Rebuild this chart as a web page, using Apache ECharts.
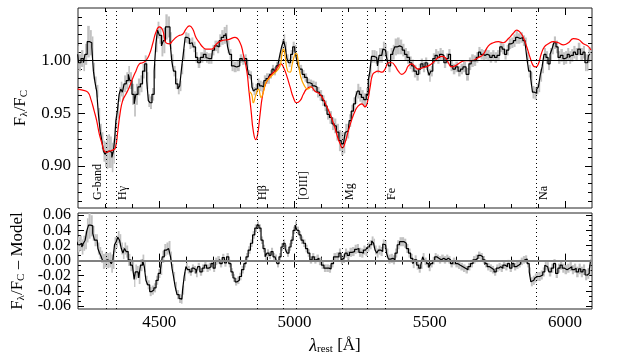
<!DOCTYPE html>
<html>
<head>
<meta charset="utf-8">
<script src="https://cdn.jsdelivr.net/npm/echarts@6/dist/echarts.min.js"></script>
<style>
  html, body { margin: 0; padding: 0; background: #fff; }
  #chart { width: 623px; height: 356px; }
</style>
</head>
<body>
<div id="chart"></div>
<script>
// observed spectrum, normalised by continuum (black steps + grey error boxes)
var specWave = [
  4199, 4205, 4217, 4223, 4229, 4239, 4248, 4254, 4260, 4266,
  4272, 4279, 4285, 4291, 4297, 4303, 4309, 4315, 4322, 4328,
  4334, 4338, 4342, 4349, 4355, 4361, 4367, 4374, 4383, 4389,
  4395, 4404, 4411, 4417, 4426, 4435, 4442, 4451, 4457, 4463,
  4469, 4478, 4485, 4491, 4497, 4505, 4512, 4519, 4527, 4536,
  4544, 4549, 4557, 4565, 4573, 4579, 4586, 4592, 4600, 4608,
  4616, 4622, 4631, 4638, 4647, 4657, 4670, 4676, 4684, 4694,
  4700, 4709, 4719, 4725, 4734, 4743, 4750, 4756, 4764, 4771,
  4780, 4793, 4803, 4811, 4820, 4827, 4833, 4840, 4846, 4852,
  4860, 4867, 4875, 4883, 4891, 4899, 4906, 4913, 4921, 4928,
  4936, 4943, 4950, 4957, 4963, 4969, 4975, 4982, 4990, 4997,
  5005, 5010, 5017, 5024, 5033, 5042, 5052, 5061, 5070, 5079,
  5088, 5098, 5107, 5116, 5125, 5134, 5144, 5150, 5160, 5169,
  5177, 5185, 5191, 5199, 5206, 5214, 5222, 5229, 5236, 5244,
  5251, 5261, 5270, 5276, 5282, 5288, 5296, 5304, 5310, 5316,
  5323, 5331, 5337, 5344, 5351, 5360, 5367, 5374, 5384, 5394,
  5403, 5411, 5421, 5430, 5437, 5446, 5456, 5463, 5471, 5479,
  5487, 5495, 5501, 5507, 5516, 5524, 5532, 5541, 5548, 5557,
  5565, 5573, 5581, 5590, 5600, 5610, 5618, 5628, 5641, 5649,
  5658, 5668, 5676, 5684, 5692, 5701, 5708, 5717, 5727, 5735,
  5744, 5754, 5764, 5772, 5781, 5788, 5797, 5806, 5813, 5822,
  5830, 5840, 5849, 5856, 5862, 5870, 5877, 5883, 5892, 5899,
  5905, 5912, 5919, 5926, 5934, 5941, 5949, 5955, 5963, 5971,
  5978, 5988, 5997, 6004, 6013, 6019, 6027, 6035, 6043, 6052,
  6062, 6071, 6077, 6084, 6090, 6095
];
var specFlux = [
  1.006, 0.998, 1.002, 0.998, 1.006, 1.018, 1.017, 1.013, 0.990, 0.979,
  0.971, 0.949, 0.933, 0.924, 0.914, 0.911, 0.913, 0.914, 0.913, 0.908,
  0.914, 0.927, 0.943, 0.952, 0.968, 0.973, 0.970, 0.978, 0.981, 0.987,
  0.981, 0.968, 0.959, 0.968, 0.975, 0.978, 0.990, 0.997, 0.981, 0.962,
  0.960, 0.968, 0.990, 1.016, 1.029, 1.024, 1.014, 1.019, 1.032, 1.032,
  1.019, 1.000, 0.990, 0.978, 0.973, 0.976, 0.992, 1.006, 1.022, 1.021,
  1.016, 1.017, 1.013, 1.003, 0.998, 1.003, 1.006, 1.003, 1.002, 1.002,
  1.010, 1.014, 1.013, 1.019, 1.022, 1.024, 1.026, 1.013, 1.006, 0.995,
  0.994, 0.995, 1.002, 1.000, 1.002, 0.997, 0.987, 0.986, 0.975, 0.971,
  0.973, 0.978, 0.976, 0.975, 0.981, 0.983, 0.983, 0.987, 0.992, 0.990,
  0.995, 0.997, 1.006, 1.014, 1.019, 1.013, 1.002, 0.998, 1.006, 1.013,
  1.010, 1.002, 0.995, 0.992, 0.987, 0.984, 0.979, 0.978, 0.976, 0.975,
  0.970, 0.967, 0.962, 0.957, 0.949, 0.946, 0.940, 0.938, 0.932, 0.924,
  0.921, 0.922, 0.932, 0.933, 0.943, 0.952, 0.959, 0.965, 0.971, 0.968,
  0.965, 0.963, 0.968, 0.981, 0.990, 1.004, 1.004, 1.003, 0.995, 1.005,
  1.005, 1.011, 1.010, 1.003, 0.995, 1.006, 1.008, 1.013, 1.014, 1.013,
  1.010, 1.006, 1.003, 0.998, 0.995, 0.990, 0.987, 0.992, 0.997, 0.994,
  0.998, 0.992, 0.986, 0.990, 1.002, 1.005, 1.003, 1.006, 1.005, 0.998,
  1.002, 1.006, 0.995, 0.992, 0.994, 0.990, 0.992, 0.994, 0.987, 0.997,
  1.000, 1.000, 1.003, 1.008, 1.006, 1.005, 1.006, 1.005, 1.003, 1.005,
  1.003, 1.005, 1.013, 1.011, 1.006, 1.010, 1.016, 1.017, 1.019, 1.022,
  1.021, 1.022, 1.019, 1.017, 1.003, 0.990, 0.983, 0.970, 0.969, 0.973,
  0.975, 0.986, 0.994, 1.006, 1.003, 0.997, 1.006, 1.011, 1.017, 1.013,
  1.003, 1.005, 1.002, 1.003, 1.006, 1.003, 1.005, 1.008, 1.006, 1.011,
  1.006, 1.008, 0.998, 0.998, 1.005, 1.006
];
var specErr = [
  0.008, 0.008, 0.008, 0.008, 0.010, 0.015, 0.012, 0.010, 0.008, 0.006,
  0.006, 0.006, 0.007, 0.008, 0.010, 0.012, 0.016, 0.016, 0.015, 0.014,
  0.012, 0.010, 0.008, 0.007, 0.007, 0.007, 0.008, 0.008, 0.008, 0.008,
  0.008, 0.010, 0.012, 0.010, 0.008, 0.008, 0.007, 0.008, 0.008, 0.006,
  0.006, 0.006, 0.007, 0.008, 0.008, 0.008, 0.010, 0.012, 0.012, 0.010,
  0.008, 0.006, 0.005, 0.005, 0.005, 0.005, 0.005, 0.005, 0.005, 0.005,
  0.005, 0.005, 0.005, 0.005, 0.005, 0.005, 0.005, 0.005, 0.005, 0.005,
  0.005, 0.005, 0.006, 0.006, 0.007, 0.008, 0.008, 0.006, 0.005, 0.005,
  0.005, 0.005, 0.004, 0.004, 0.004, 0.004, 0.004, 0.004, 0.004, 0.004,
  0.005, 0.005, 0.005, 0.005, 0.005, 0.005, 0.005, 0.004, 0.004, 0.004,
  0.004, 0.004, 0.004, 0.006, 0.006, 0.005, 0.004, 0.004, 0.004, 0.005,
  0.005, 0.004, 0.004, 0.004, 0.004, 0.004, 0.004, 0.004, 0.005, 0.005,
  0.005, 0.005, 0.005, 0.005, 0.005, 0.006, 0.006, 0.007, 0.008, 0.010,
  0.011, 0.010, 0.008, 0.007, 0.006, 0.006, 0.006, 0.006, 0.007, 0.007,
  0.007, 0.006, 0.006, 0.006, 0.006, 0.006, 0.006, 0.006, 0.007, 0.007,
  0.007, 0.007, 0.006, 0.006, 0.006, 0.006, 0.007, 0.008, 0.008, 0.007,
  0.006, 0.006, 0.006, 0.006, 0.006, 0.006, 0.006, 0.005, 0.005, 0.005,
  0.005, 0.006, 0.006, 0.005, 0.005, 0.006, 0.006, 0.006, 0.005, 0.005,
  0.005, 0.005, 0.005, 0.005, 0.005, 0.005, 0.005, 0.005, 0.006, 0.006,
  0.006, 0.005, 0.005, 0.005, 0.005, 0.005, 0.005, 0.005, 0.005, 0.005,
  0.005, 0.005, 0.005, 0.005, 0.005, 0.005, 0.005, 0.005, 0.006, 0.006,
  0.005, 0.005, 0.005, 0.005, 0.005, 0.006, 0.006, 0.006, 0.006, 0.005,
  0.005, 0.006, 0.006, 0.006, 0.006, 0.006, 0.006, 0.005, 0.006, 0.006,
  0.006, 0.006, 0.006, 0.006, 0.006, 0.006, 0.006, 0.006, 0.006, 0.006,
  0.006, 0.006, 0.008, 0.008, 0.007, 0.007
];

// best-fit model (red)
var modelWave = [
  4199, 4217, 4236, 4248, 4260, 4269, 4279, 4289, 4297, 4306,
  4316, 4328, 4338, 4347, 4355, 4365, 4377, 4390, 4402, 4414,
  4427, 4439, 4451, 4464, 4476, 4488, 4501, 4513, 4525, 4538,
  4550, 4562, 4575, 4587, 4599, 4612, 4624, 4636, 4649, 4661,
  4673, 4694, 4713, 4731, 4756, 4780, 4799, 4811, 4824, 4832,
  4840, 4848, 4857, 4864, 4873, 4881, 4891, 4904, 4916, 4928,
  4941, 4950, 4959, 4971, 4984, 4996, 5008, 5021, 5033, 5045,
  5061, 5076, 5095, 5113, 5132, 5150, 5160, 5169, 5177, 5187,
  5199, 5212, 5224, 5236, 5249, 5261, 5271, 5280, 5288, 5298,
  5310, 5323, 5335, 5347, 5360, 5372, 5384, 5397, 5409, 5421,
  5434, 5446, 5458, 5471, 5483, 5495, 5507, 5520, 5532, 5544,
  5557, 5569, 5581, 5594, 5606, 5618, 5631, 5655, 5680, 5698,
  5717, 5735, 5754, 5772, 5791, 5809, 5822, 5834, 5846, 5859,
  5871, 5883, 5892, 5902, 5912, 5924, 5939, 5957, 5976, 5994,
  6013, 6031, 6050, 6068, 6084, 6096
];
var modelFlux = [
  0.973, 0.972, 0.970, 0.963, 0.952, 0.943, 0.930, 0.921, 0.914, 0.913,
  0.914, 0.915, 0.917, 0.933, 0.949, 0.962, 0.968, 0.975, 0.983, 0.990,
  0.997, 0.998, 1.000, 1.006, 1.016, 1.027, 1.032, 1.029, 1.017, 1.016,
  1.019, 1.022, 1.024, 1.025, 1.030, 1.033, 1.030, 1.022, 1.017, 1.013,
  1.011, 1.011, 1.016, 1.019, 1.020, 1.022, 1.017, 1.006, 0.990, 0.971,
  0.952, 0.933, 0.925, 0.930, 0.949, 0.965, 0.976, 0.983, 0.987, 0.990,
  0.995, 0.997, 0.994, 0.986, 0.975, 0.965, 0.960, 0.962, 0.968, 0.973,
  0.975, 0.971, 0.968, 0.960, 0.949, 0.936, 0.927, 0.921, 0.917, 0.922,
  0.933, 0.944, 0.952, 0.957, 0.959, 0.956, 0.962, 0.975, 0.986, 0.989,
  0.990, 0.989, 0.992, 0.998, 0.998, 0.995, 0.990, 0.987, 0.989, 0.995,
  0.997, 0.994, 0.992, 0.993, 0.994, 0.995, 0.997, 1.000, 1.003, 1.004,
  1.003, 0.998, 0.994, 0.995, 0.997, 0.999, 1.000, 1.000, 1.003, 1.006,
  1.014, 1.017, 1.018, 1.017, 1.021, 1.026, 1.029, 1.027, 1.022, 1.013,
  1.003, 0.995, 0.994, 0.997, 1.006, 1.013, 1.016, 1.018, 1.017, 1.015,
  1.017, 1.021, 1.020, 1.016, 1.014, 1.010
];

// model including the Hbeta / [OIII] emission (orange)
var emisWave = [
  4832, 4842, 4848, 4857, 4867, 4877, 4885, 4894, 4906, 4922,
  4934, 4947, 4955, 4960, 4965, 4975, 4984, 4992, 5002, 5007,
  5015, 5024, 5037, 5049, 5061
];
var emisFlux = [
  0.971, 0.968, 0.960, 0.967, 0.973, 0.965, 0.970, 0.979, 0.983, 0.987,
  0.990, 0.995, 1.008, 1.011, 1.005, 0.990, 0.989, 0.997, 1.006, 1.007,
  0.997, 0.984, 0.976, 0.973, 0.975
];

// residuals, data - model (bottom panel)
var resWave = [
  4196, 4202, 4211, 4217, 4223, 4230, 4236, 4242, 4251, 4258,
  4264, 4271, 4276, 4283, 4289, 4295, 4304, 4312, 4320, 4326,
  4332, 4338, 4344, 4350, 4357, 4363, 4369, 4375, 4381, 4390,
  4397, 4405, 4410, 4414, 4422, 4427, 4435, 4442, 4448, 4454,
  4461, 4469, 4476, 4485, 4492, 4501, 4508, 4515, 4523, 4531,
  4539, 4545, 4550, 4556, 4562, 4570, 4577, 4584, 4589, 4596,
  4602, 4609, 4618, 4624, 4633, 4639, 4646, 4655, 4663, 4671,
  4679, 4688, 4695, 4704, 4710, 4720, 4729, 4737, 4745, 4753,
  4762, 4769, 4777, 4784, 4793, 4800, 4809, 4817, 4825, 4833,
  4842, 4849, 4858, 4865, 4873, 4880, 4888, 4895, 4902, 4910,
  4917, 4925, 4932, 4939, 4947, 4954, 4962, 4969, 4976, 4984,
  4991, 4999, 5006, 5013, 5021, 5028, 5037, 5045, 5053, 5061,
  5070, 5077, 5086, 5095, 5105, 5113, 5123, 5132, 5139, 5150,
  5160, 5169, 5175, 5183, 5191, 5199, 5208, 5218, 5227, 5234,
  5243, 5251, 5259, 5267, 5273, 5282, 5289, 5296, 5300, 5308,
  5314, 5323, 5330, 5337, 5344, 5351, 5360, 5368, 5376, 5384,
  5393, 5402, 5409, 5418, 5425, 5434, 5441, 5448, 5456, 5463,
  5471, 5477, 5485, 5493, 5500, 5507, 5515, 5522, 5530, 5538,
  5547, 5557, 5565, 5573, 5581, 5590, 5600, 5609, 5618, 5628,
  5637, 5646, 5655, 5665, 5674, 5683, 5692, 5701, 5708, 5717,
  5726, 5734, 5742, 5750, 5759, 5766, 5775, 5784, 5791, 5800,
  5808, 5816, 5824, 5833, 5840, 5849, 5856, 5865, 5871, 5877,
  5885, 5892, 5899, 5907, 5914, 5922, 5929, 5936, 5945, 5954,
  5961, 5970, 5978, 5986, 5994, 6003, 6013, 6021, 6030, 6037,
  6046, 6055, 6062, 6071, 6078, 6087, 6093, 6097
];
var resVal = [
  0.025, 0.021, 0.023, 0.018, 0.023, 0.027, 0.040, 0.047, 0.046, 0.036,
  0.027, 0.027, 0.016, 0.010, 0.005, -0.001, 0.001, 0.000, 0.001, -0.004,
  0.001, 0.021, 0.025, 0.031, 0.027, 0.016, 0.010, 0.016, 0.012, 0.001,
  -0.006, -0.008, -0.025, -0.015, -0.015, -0.023, -0.006, 0.001, -0.008, -0.026,
  -0.032, -0.041, -0.039, -0.036, -0.026, -0.017, -0.012, 0.005, 0.014, 0.016,
  0.018, 0.005, -0.010, -0.021, -0.034, -0.045, -0.050, -0.051, -0.039, -0.021,
  -0.008, -0.012, -0.015, -0.010, -0.012, -0.017, -0.008, -0.015, -0.010, -0.006,
  -0.010, -0.008, -0.004, -0.010, -0.001, 0.001, -0.004, 0.004, -0.003, 0.005,
  -0.004, -0.015, -0.023, -0.028, -0.026, -0.021, -0.012, -0.004, 0.005, 0.014,
  0.023, 0.034, 0.043, 0.047, 0.043, 0.027, 0.016, 0.005, 0.010, 0.007,
  0.012, 0.005, 0.003, -0.004, 0.005, 0.018, 0.023, 0.016, 0.010, 0.018,
  0.027, 0.040, 0.047, 0.040, 0.034, 0.027, 0.023, 0.016, 0.010, 0.001,
  0.005, 0.001, 0.003, -0.001, -0.006, -0.010, -0.010, -0.011, -0.004, 0.005,
  0.005, 0.010, 0.001, 0.003, 0.010, 0.007, 0.011, 0.012, 0.015, 0.016,
  0.011, 0.010, 0.014, 0.012, 0.018, 0.021, 0.026, 0.023, 0.014, 0.010,
  0.014, 0.012, 0.022, 0.021, 0.010, 0.002, 0.003, 0.001, 0.010, 0.021,
  0.025, 0.025, 0.023, 0.016, 0.010, 0.003, -0.004, 0.001, -0.006, -0.010,
  -0.006, 0.005, -0.001, -0.004, -0.009, -0.004, 0.000, 0.005, 0.003, 0.001,
  0.003, 0.001, 0.003, 0.001, -0.004, -0.001, -0.004, -0.006, -0.008, -0.010,
  -0.012, -0.008, -0.004, 0.001, 0.003, 0.007, 0.005, 0.001, -0.004, -0.008,
  -0.010, -0.012, -0.015, -0.010, -0.008, -0.010, -0.006, -0.008, -0.004, -0.010,
  -0.004, -0.008, -0.006, -0.004, -0.001, 0.001, 0.002, -0.004, -0.015, -0.028,
  -0.026, -0.023, -0.021, -0.021, -0.019, -0.015, -0.006, -0.008, -0.015, -0.010,
  -0.004, -0.017, -0.010, -0.006, -0.010, -0.012, -0.010, -0.008, -0.012, -0.010,
  -0.015, -0.011, -0.015, -0.012, -0.019, -0.017, -0.012, 0.001
];
var resErr = [
  0.010, 0.010, 0.010, 0.010, 0.010, 0.012, 0.016, 0.018, 0.014, 0.010,
  0.008, 0.008, 0.008, 0.008, 0.008, 0.010, 0.010, 0.010, 0.010, 0.012,
  0.012, 0.010, 0.008, 0.008, 0.008, 0.008, 0.008, 0.008, 0.008, 0.008,
  0.008, 0.008, 0.010, 0.010, 0.008, 0.008, 0.008, 0.007, 0.007, 0.006,
  0.006, 0.006, 0.006, 0.006, 0.006, 0.006, 0.007, 0.008, 0.008, 0.008,
  0.008, 0.007, 0.006, 0.006, 0.006, 0.006, 0.006, 0.006, 0.006, 0.006,
  0.005, 0.005, 0.005, 0.005, 0.005, 0.005, 0.005, 0.005, 0.005, 0.005,
  0.005, 0.005, 0.005, 0.005, 0.005, 0.005, 0.005, 0.005, 0.005, 0.005,
  0.005, 0.005, 0.005, 0.005, 0.005, 0.005, 0.005, 0.005, 0.005, 0.005,
  0.005, 0.005, 0.005, 0.005, 0.005, 0.005, 0.005, 0.005, 0.005, 0.005,
  0.005, 0.005, 0.005, 0.005, 0.005, 0.005, 0.005, 0.005, 0.005, 0.005,
  0.005, 0.005, 0.005, 0.005, 0.005, 0.005, 0.005, 0.005, 0.005, 0.005,
  0.005, 0.005, 0.005, 0.005, 0.005, 0.005, 0.005, 0.005, 0.005, 0.005,
  0.006, 0.006, 0.006, 0.006, 0.006, 0.006, 0.006, 0.006, 0.006, 0.006,
  0.006, 0.006, 0.006, 0.006, 0.006, 0.006, 0.006, 0.006, 0.006, 0.006,
  0.006, 0.006, 0.006, 0.006, 0.006, 0.006, 0.006, 0.006, 0.006, 0.006,
  0.006, 0.006, 0.006, 0.006, 0.006, 0.006, 0.006, 0.006, 0.006, 0.006,
  0.005, 0.005, 0.005, 0.005, 0.005, 0.005, 0.005, 0.005, 0.005, 0.005,
  0.005, 0.005, 0.005, 0.005, 0.005, 0.005, 0.005, 0.005, 0.005, 0.005,
  0.005, 0.005, 0.005, 0.005, 0.005, 0.005, 0.005, 0.005, 0.005, 0.005,
  0.005, 0.005, 0.005, 0.005, 0.005, 0.005, 0.005, 0.005, 0.005, 0.005,
  0.005, 0.005, 0.005, 0.005, 0.005, 0.005, 0.005, 0.005, 0.006, 0.006,
  0.006, 0.006, 0.006, 0.006, 0.006, 0.006, 0.006, 0.006, 0.006, 0.006,
  0.006, 0.006, 0.006, 0.006, 0.006, 0.006, 0.006, 0.006, 0.006, 0.006,
  0.007, 0.007, 0.007, 0.007, 0.007, 0.007, 0.007, 0.007
];

// absorption / emission features
var lineWave = [4304, 4340, 4861, 4959, 5007, 5175, 5270, 5335, 5893];
var labelText = ["G-band", "H\u03b3", "H\u03b2", "[OIII]", "Mg", "Fe", "Na"];
var labelWave = [4272, 4366, 4882, 5035, 5206, 5359, 5921];

// axes
var xRange = [4200, 6100];
var topRange = [0.86, 1.05];
var resRange = [-0.064, 0.063];
var xMajor = [4500, 5000, 5500, 6000];
var xMinor = [4300, 4400, 4600, 4700, 4800, 4900, 5100, 5200, 5300, 5400, 5600, 5700, 5800, 5900];
var topMajor = [0.90, 0.95, 1.00];
var resMajor = [-0.06, -0.04, -0.02, 0.00, 0.02, 0.04, 0.06];
// labels of the residual axis are split on two axes so none gets dropped as overlapping
var resLabelsA = [-0.06, -0.02, 0.02, 0.06];
var resLabelsB = [-0.04, 0.00, 0.04];

var FONT = "Liberation Serif";

function minorTicks(major, parts, range) {
  var step = (major[1] - major[0]) / parts;
  var out = [];
  for (var k = -40; k <= 40; k++) {
    var v = major[0] + k * step;
    if (v <= range[0] + 1e-6 || v >= range[1] - 1e-6) continue;
    if (k % parts === 0) continue;
    out.push(+v.toFixed(5));
  }
  return out;
}
var topMinor = minorTicks(topMajor, 6, topRange);
var resMinor = minorTicks(resMajor, 3, resRange);

function xAx(grid, pos, vals, len, labels) {
  return {
    type: "value", gridIndex: grid, position: pos,
    min: xRange[0], max: xRange[1],
    axisLine: { show: false },
    splitLine: { show: false },
    axisTick: { show: true, inside: true, length: len, customValues: vals,
      lineStyle: { color: "#000", width: 1 } },
    axisLabel: { show: labels, customValues: vals, margin: 5,
      showMinLabel: true, showMaxLabel: true,
      color: "#000", fontFamily: FONT, fontSize: 17,
      formatter: function (v) { return String(v); } }
  };
}

function yAx(grid, pos, range, vals, len, labelVals, size) {
  return {
    type: "value", gridIndex: grid, position: pos,
    min: range[0], max: range[1],
    axisLine: { show: false },
    splitLine: { show: false },
    axisTick: { show: true, inside: true, length: len, customValues: vals,
      lineStyle: { color: "#000", width: 1 } },
    axisLabel: { show: !!labelVals, customValues: labelVals || vals, margin: 7,
      showMinLabel: true, showMaxLabel: true, hideOverlap: false,
      color: "#000", fontFamily: FONT, fontSize: size,
      formatter: function (v) { return v.toFixed(2); } }
  };
}

// grey boxes: one per pixel bin, from value-err to value+err
function bandRender(waves) {
  return function (params, api) {
    var i = params.dataIndex;
    var w = waves[i];
    var wl = i > 0 ? (waves[i - 1] + w) / 2 : w;
    var wr = i < waves.length - 1 ? (waves[i + 1] + w) / 2 : w;
    var p0 = api.coord([wl, api.value(2)]);
    var p1 = api.coord([wr, api.value(1)]);
    return {
      type: "rect",
      shape: { x: p0[0], y: p0[1], width: p1[0] - p0[0], height: p1[1] - p0[1] },
      style: { fill: "#c2c2c2" }
    };
  };
}

function zip(a, b) {
  return a.map(function (v, i) { return [v, b[i]]; });
}

var dotted = { type: [1, 3], color: "#000", width: 1 };
var subRich = {
  n: { fontFamily: FONT, fontSize: 17, color: "#000" },
  s: { fontFamily: FONT, fontSize: 11, color: "#000", padding: [7, 0, 0, 0] },
  i: { fontFamily: FONT, fontSize: 18, fontStyle: "italic", color: "#000" }
};

var xAxes = [
  xAx(0, "bottom", xMajor, 7, false),
  xAx(0, "bottom", xMinor, 4, false),
  xAx(0, "top", xMajor, 7, false),
  xAx(0, "top", xMinor, 4, false),
  xAx(1, "bottom", xMajor, 7, true),
  xAx(1, "bottom", xMinor, 4, false),
  xAx(1, "top", xMajor, 7, false),
  xAx(1, "top", xMinor, 4, false)
];
xAxes[4].name = "{i|\u03bb}{s|rest}{n| [\u00c5]}";
xAxes[4].nameLocation = "middle";
xAxes[4].nameGap = 28;
xAxes[4].nameTextStyle = { rich: subRich };

var yAxes = [
  yAx(0, "left", topRange, topMajor, 7, topMajor, 17),
  yAx(0, "left", topRange, topMinor, 4, null, 17),
  yAx(0, "right", topRange, topMajor, 7, null, 17),
  yAx(0, "right", topRange, topMinor, 4, null, 17),
  yAx(1, "left", resRange, resMajor, 6, resLabelsA, 16),
  yAx(1, "left", resRange, resMinor, 3, resLabelsB, 16),
  yAx(1, "right", resRange, resMajor, 6, null, 16),
  yAx(1, "right", resRange, resMinor, 3, null, 16)
];
yAxes[0].name = "{n|F}{s|\u03bb}{n|/F}{s|C}";
yAxes[0].nameLocation = "middle";
yAxes[0].nameGap = 48;
yAxes[0].nameTextStyle = { rich: subRich };
yAxes[4].name = "{n|F}{s|\u03bb}{n|/F}{s|C}{n| \u2013 Model}";
yAxes[4].nameLocation = "middle";
yAxes[4].nameGap = 48;
yAxes[4].nameTextStyle = { rich: subRich };

var chart = echarts.init(document.getElementById("chart"), null, { renderer: "canvas" });

var option = {
  animation: false,
  backgroundColor: "#fff",
  textStyle: { fontFamily: FONT, color: "#000" },
  grid: [
    { left: 78, top: 8, width: 514, height: 200, show: true, borderColor: "#222", borderWidth: 1 },
    { left: 78, top: 213, width: 514, height: 96, show: true, borderColor: "#222", borderWidth: 1 }
  ],
  xAxis: xAxes,
  yAxis: yAxes,
  series: [
    {
      type: "custom", xAxisIndex: 0, yAxisIndex: 0, z: 1, clip: true,
      renderItem: bandRender(specWave),
      encode: { x: 0, y: [1, 2] },
      data: specWave.map(function (w, i) { return [w, specFlux[i] - specErr[i], specFlux[i] + specErr[i]]; })
    },
    {
      type: "line", xAxisIndex: 0, yAxisIndex: 0, z: 3,
      step: "middle", symbol: "none",
      lineStyle: { color: "#000", width: 1.2 },
      data: zip(specWave, specFlux),
      markLine: {
        silent: true, symbol: "none", label: { show: false },
        data: lineWave.map(function (w) { return { xAxis: w, lineStyle: dotted }; })
          .concat([{ yAxis: 1, lineStyle: { type: "solid", color: "#000", width: 1.2 } }])
      }
    },
    {
      type: "line", xAxisIndex: 0, yAxisIndex: 0, z: 4,
      smooth: true, symbol: "none",
      lineStyle: { color: "#ff0000", width: 1.2 },
      data: zip(modelWave, modelFlux)
    },
    {
      type: "line", xAxisIndex: 0, yAxisIndex: 0, z: 5,
      smooth: true, symbol: "none",
      lineStyle: { color: "#ffa500", width: 1.2 },
      data: zip(emisWave, emisFlux)
    },
    {
      type: "custom", xAxisIndex: 0, yAxisIndex: 0, z: 6,
      encode: { x: 0 },
      data: labelWave.map(function (w) { return [w]; }),
      renderItem: function (params, api) {
        var p = api.coord([api.value(0), topRange[0]]);
        return {
          type: "text", x: p[0], y: p[1] - 8, rotation: Math.PI / 2,
          style: {
            text: labelText[params.dataIndex], fill: "#000",
            font: "12px '" + FONT + "'", align: "left", verticalAlign: "middle"
          }
        };
      }
    },
    {
      type: "custom", xAxisIndex: 4, yAxisIndex: 4, z: 1, clip: true,
      renderItem: bandRender(resWave),
      encode: { x: 0, y: [1, 2] },
      data: resWave.map(function (w, i) { return [w, resVal[i] - resErr[i], resVal[i] + resErr[i]]; })
    },
    {
      type: "line", xAxisIndex: 4, yAxisIndex: 4, z: 3,
      step: "middle", symbol: "none",
      lineStyle: { color: "#000", width: 1.2 },
      data: zip(resWave, resVal),
      markLine: {
        silent: true, symbol: "none", label: { show: false },
        data: lineWave.map(function (w) { return { xAxis: w, lineStyle: dotted }; })
          .concat([{ yAxis: 0, lineStyle: { type: "solid", color: "#808080", width: 2 } }])
      }
    }
  ]
};

chart.setOption(option);
</script>
</body>
</html>
